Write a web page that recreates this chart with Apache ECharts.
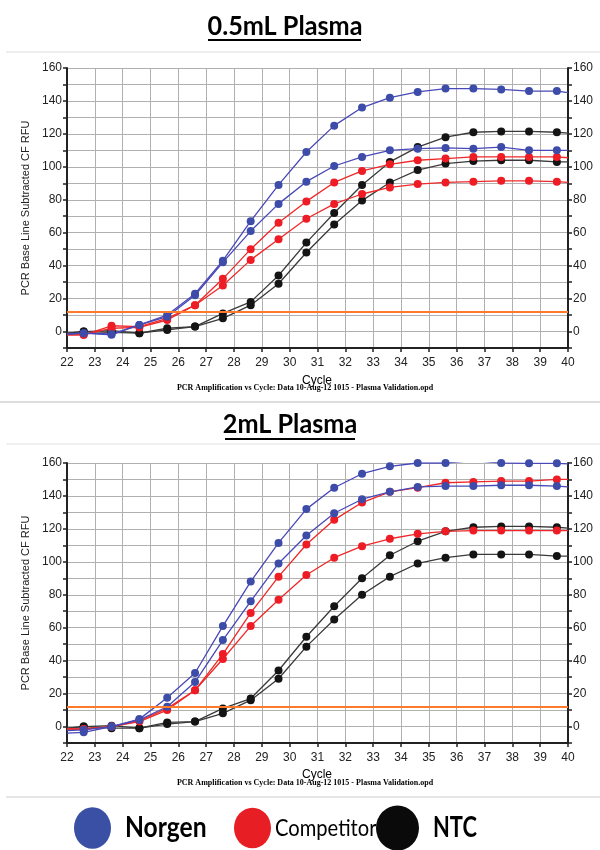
<!DOCTYPE html>
<html>
<head>
<meta charset="utf-8">
<script src="https://cdn.jsdelivr.net/npm/echarts@6/dist/echarts.min.js"></script>
<style>
html,body{margin:0;padding:0;background:#fff;}
#c{width:600px;height:850px;}
</style>
</head>
<body>
<div id="c"></div>
<script>
// ---- data ----
const titles = ['0.5mL Plasma', '2mL Plasma'];
const cycles = [22, 22.6, 23.6, 24.6, 25.6, 26.6, 27.6, 28.6, 29.6, 30.6, 31.6, 32.6, 33.6, 34.6, 35.6, 36.6, 37.6, 38.6, 39.6, 40];
const threshold = [12.3, 12];
const yTicks = [0, 20, 40, 60, 80, 100, 120, 140, 160];
const xTicks = [22, 23, 24, 25, 26, 27, 28, 29, 30, 31, 32, 33, 34, 35, 36, 37, 38, 39, 40];

// 0.5 mL plasma
const norgenA1 = [-1.5, -1, -1.5, 4, 10, 23, 43, 67, 89, 109, 125, 136, 142, 145.5, 147.5, 147.5, 147, 146, 146, 145];
const norgenB1 = [-1.5, -1, -2, 4, 9, 22, 42, 61, 77.5, 91, 100.5, 106, 110, 111, 111.5, 111, 112, 110, 110, 110];
const competitorA1 = [-2, -2, 3.5, 3, 8, 16, 32, 50, 66, 79, 90.5, 97.5, 101.5, 104, 105, 106, 106, 106, 106, 105.5];
const competitorB1 = [-2, -2, 2, 2.5, 7, 16, 28, 43.5, 56, 68.5, 77.5, 83.5, 87.5, 89.5, 90.5, 91, 91.5, 91.5, 91, 90.5];
const ntcA1 = [-1, 0, 0.5, -1, 2, 3, 11, 18, 34, 54, 72, 89, 103, 112, 118, 121, 121.5, 121.5, 121, 120.5];
const ntcB1 = [-1, 0, -0.5, -1, 1, 3, 8, 16, 29, 48, 65, 79.5, 90.5, 98, 102, 103.5, 104, 104, 103, 103];

// 2 mL plasma
const norgenA2 = [-4, -3.5, 0, 4.5, 17.5, 32.5, 61, 88, 111.5, 132, 145, 153.5, 158, 160, 160, 161.5, 160, 159.8, 159.8, 159.5];
const norgenB2 = [-2.5, -2, 0, 4, 12, 27, 52.5, 76, 99, 116, 129.5, 138, 142.5, 145.5, 146, 146, 146.5, 146.5, 146, 145.5];
const competitorA2 = [-1.5, -1.5, 0, 3.5, 11, 22, 44, 69, 91, 110.5, 125.5, 136, 142.5, 145, 148, 148.5, 149, 149, 150, 150];
const competitorB2 = [-1.5, -1.5, 0, 3, 10, 22, 41, 61, 77, 92, 102.5, 109.5, 114, 117, 118.5, 119, 119, 119, 119, 119];
const ntcA2 = [-1, 0, 0.5, -1, 2.5, 3, 11, 17, 34, 54.5, 73, 90, 104, 112.5, 118.5, 121, 121.5, 121.5, 121, 120.5];
const ntcB2 = [-1, 0, -1, -1, 1.5, 3, 8, 16, 29, 48.5, 65, 80, 91, 99, 102.5, 104.5, 104.5, 104.5, 103.5, 103.5];

const legendNames = ['Norgen', 'Competitor', 'NTC'];

// ---- styling ----
const COL = {
  blue: {line: '#4848b8', dot: '#3c4ca8'},
  red: {line: '#f02828', dot: '#ee1c24'},
  black: {line: '#3a3a3a', dot: '#141414'}
};
const LEG = ['#3a50a5', '#e81e25', '#0a0a0a'];
const labelFont = {fontFamily: 'Liberation Sans', fontSize: 12, color: '#222'};

function mkData(vals) {
  const last = cycles.length - 1;
  return cycles.map((c, i) => ({
    value: [c, vals[i]],
    symbol: (i === 0 || i === last) ? 'none' : 'circle'
  }));
}

function mkSeries(vals, col, gi, withThreshold) {
  const s = {
    type: 'line',
    xAxisIndex: gi,
    yAxisIndex: gi * 2,
    data: mkData(vals),
    symbolSize: 8,
    lineStyle: {color: col.line, width: 1.3},
    itemStyle: {color: col.dot},
    clip: true,
    silent: true
  };
  if (withThreshold) {
    s.markLine = {
      silent: true, symbol: 'none', label: {show: false},
      lineStyle: {color: '#ff7a2a', width: 2, type: 'solid'},
      data: [{yAxis: threshold[gi]}]
    };
  }
  return s;
}

const grids = [
  {left: 67, top: 68, width: 501, height: 280},
  {left: 67, top: 463, width: 501, height: 280}
];

const xAxes = [0, 1].map(gi => ({
  type: 'value', gridIndex: gi, min: xTicks[0], max: xTicks[xTicks.length - 1], interval: 1,
  axisLine: {show: true, onZero: false, lineStyle: {color: '#222', width: 2}},
  axisTick: {show: true, length: 4, lineStyle: {color: '#222', width: 1.5}},
  axisLabel: Object.assign({margin: 9}, labelFont),
  splitLine: {show: true, lineStyle: {color: '#b0b0b0', width: 1}}
}));

const yAxes = [];
[0, 1].forEach(gi => {
  ['left', 'right'].forEach(pos => {
    yAxes.push({
      type: 'value', gridIndex: gi, position: pos, min: -10, max: yTicks[yTicks.length - 1], interval: 10,
      name: pos === 'left' ? 'PCR Base Line Subtracted CF RFU' : '',
      nameLocation: 'middle', nameGap: 24, nameRotate: 90,
      nameTextStyle: {fontFamily: 'Liberation Sans', fontSize: 11, color: '#222'},
      axisLine: {show: true, onZero: false, lineStyle: {color: '#222', width: 2}},
      axisTick: {show: true, length: 4, lineStyle: {color: '#222', width: 1.5}},
      axisLabel: Object.assign({
        margin: 5,
        formatter: v => (yTicks.indexOf(v) >= 0 ? String(v) : '')
      }, labelFont),
      splitLine: {show: pos === 'left', lineStyle: {color: '#b0b0b0', width: 1}}
    });
  });
});

const series = [
  mkSeries(ntcA1, COL.black, 0, true),
  mkSeries(ntcB1, COL.black, 0, false),
  mkSeries(competitorA1, COL.red, 0, false),
  mkSeries(competitorB1, COL.red, 0, false),
  mkSeries(norgenA1, COL.blue, 0, false),
  mkSeries(norgenB1, COL.blue, 0, false),
  mkSeries(ntcA2, COL.black, 1, true),
  mkSeries(ntcB2, COL.black, 1, false),
  mkSeries(competitorA2, COL.red, 1, false),
  mkSeries(competitorB2, COL.red, 1, false),
  mkSeries(norgenA2, COL.blue, 1, false),
  mkSeries(norgenB2, COL.blue, 1, false)
];

const footer = 'PCR Amplification vs Cycle: Data 10-Aug-12 1015 - Plasma Validation.opd';

function hline(y, x1, x2, color) {
  return {type: 'line', shape: {x1: x1, y1: y, x2: x2, y2: y}, style: {stroke: color, lineWidth: 1}, silent: true};
}
function txt(x, y, text, font, align, sx) {
  return {type: 'text', x: x, y: y, scaleX: sx || 1,
    style: {text: text, font: font, fill: '#000', align: align || 'center', verticalAlign: 'middle'}, silent: true};
}

const graphic = [
  hline(52, 6, 600, '#dddddd'),
  hline(402, 0, 600, '#bbbbbb'),
  hline(444, 6, 600, '#e2e2e2'),
  hline(797, 6, 600, '#cccccc'),
  txt(285, 27, titles[0], 'bold 26px Lato', 'center', 0.97),
  {type: 'line', shape: {x1: 208, y1: 40, x2: 361, y2: 40}, style: {stroke: '#000', lineWidth: 2}, silent: true},
  txt(290, 425, titles[1], 'bold 26px Lato', 'center', 0.97),
  {type: 'line', shape: {x1: 225, y1: 439, x2: 355, y2: 439}, style: {stroke: '#000', lineWidth: 2}, silent: true},
  txt(317, 381, 'Cycle', '12px Liberation Sans', 'center'),
  txt(305, 388, footer, 'bold 8px Liberation Serif', 'center'),
  txt(317, 775, 'Cycle', '12px Liberation Sans', 'center'),
  txt(305, 783, footer, 'bold 8px Liberation Serif', 'center'),
  {type: 'circle', x: 92.5, y: 828, scaleY: 1.12, shape: {cx: 0, cy: 0, r: 18.5}, style: {fill: LEG[0]}, silent: true},
  {type: 'circle', x: 252.5, y: 828, scaleY: 1.1, shape: {cx: 0, cy: 0, r: 18.5}, style: {fill: LEG[1]}, silent: true},
  {type: 'circle', x: 397.5, y: 828, scaleY: 1.05, shape: {cx: 0, cy: 0, r: 21.5}, style: {fill: LEG[2]}, silent: true},
  txt(125, 828, legendNames[0], 'bold 28px Lato', 'left', 0.88),
  txt(275, 828, legendNames[1], '24px Lato', 'left', 0.84),
  txt(433, 828, legendNames[2], 'bold 28px Lato', 'left', 0.78)
];

const chart = echarts.init(document.getElementById('c'), null, {renderer: 'canvas'});
chart.setOption({
  animation: false,
  backgroundColor: '#fff',
  grid: grids,
  xAxis: xAxes,
  yAxis: yAxes,
  series: series,
  graphic: graphic
});
</script>
</body>
</html>
